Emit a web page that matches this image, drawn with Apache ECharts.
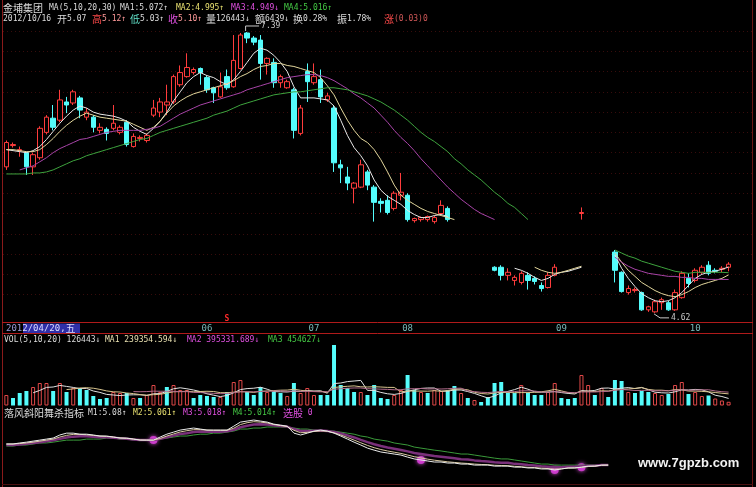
<!DOCTYPE html>
<html>
<head>
<meta charset="utf-8">
<script src="https://cdn.jsdelivr.net/npm/echarts@6/dist/echarts.min.js"></script>
<style>
html,body{margin:0;padding:0;background:#000;}
#chart{width:756px;height:487px;}
</style>
</head>
<body>
<div id="chart"></div>
<script>
// ---- Daily bars (2012), one slot per trading day, a few empty slots at the right ----
const slotCount = 112;
const slots = Array.from({ length: slotCount }, (_, i) => String(i));

// month tick labels on the time axis
const monthTickIndex = [30, 46, 60, 83, 103];
const monthTickText = ['06', '07', '08', '09', '10'];

// OHLC (null = no bar drawn)
const priceOpen = [
6.06,6.27,6.22,6.20,6.06,6.15,6.40,6.54,6.52,6.70,
6.69,6.74,6.55,6.55,6.42,6.43,6.44,6.40,6.50,6.26,
6.34,6.32,6.57,6.60,6.67,6.70,6.87,6.95,6.99,7.03,
6.94,6.84,6.75,6.95,6.85,7.03,7.38,7.33,7.31,7.08,
7.09,6.89,6.84,6.82,6.39,7.00,6.89,6.92,6.72,6.64,
6.08,5.96,5.85,5.86,6.01,5.86,5.72,5.73,5.65,5.78,
5.78,5.53,5.54,5.54,5.52,5.60,5.65,null,null,null,
null,null,null,5.07,5.07,4.99,4.94,4.92,4.99,4.96,
4.89,4.87,4.99,null,null,null,5.60,null,null,null,
null,5.22,5.02,4.82,4.84,4.82,4.65,4.63,4.72,4.72,
4.65,4.77,4.96,4.94,5.02,5.09,5.04,5.05,5.07];
const priceClose = [
6.30,6.28,6.23,6.06,6.18,6.44,6.55,6.45,6.72,6.67,
6.80,6.62,6.60,6.45,6.45,6.39,6.49,6.45,6.28,6.36,
6.35,6.37,6.64,6.70,6.70,6.95,6.99,7.04,7.02,6.99,
6.82,6.79,6.85,6.84,7.11,7.36,7.33,7.29,7.08,7.13,
6.89,6.95,6.90,6.42,6.64,6.90,6.95,6.75,6.76,6.10,
6.05,5.90,5.90,6.08,5.88,5.71,5.70,5.61,5.80,5.81,
5.54,5.55,5.56,5.57,5.56,5.68,5.54,null,null,null,
null,null,null,5.04,4.99,5.02,4.97,5.01,4.94,4.93,
4.86,4.99,5.07,null,null,null,5.61,null,null,null,
null,5.04,4.83,4.86,4.85,4.65,4.68,4.73,4.75,4.65,
4.82,5.01,4.91,5.04,5.07,5.01,5.03,5.06,5.10];
const priceLow = [
6.03,6.25,6.16,5.98,5.98,6.13,6.38,6.42,6.50,6.59,
6.67,6.54,6.52,6.40,6.39,6.32,6.42,6.38,6.26,6.25,
6.31,6.30,6.55,6.55,6.57,6.68,6.85,6.94,6.97,6.87,
6.79,6.69,6.74,6.82,6.84,7.02,7.28,7.26,6.92,6.97,
6.84,6.84,6.83,6.34,6.37,6.70,6.87,6.69,6.70,6.01,
5.90,5.83,5.70,5.85,5.83,5.52,5.61,5.59,5.63,5.73,
5.52,5.51,5.52,5.52,5.50,5.58,5.52,null,null,null,
null,null,null,5.03,4.94,4.94,4.89,4.90,4.85,4.90,
4.83,4.86,4.98,null,null,null,5.54,null,null,null,
null,4.92,4.82,4.80,4.82,4.64,4.63,4.62,4.65,4.64,
4.64,4.76,4.87,4.92,5.00,4.99,5.01,5.02,5.03];
const priceHigh = [
6.32,6.30,6.26,6.21,6.20,6.46,6.57,6.67,6.82,6.75,
6.82,6.76,6.64,6.57,6.49,6.45,6.67,6.47,6.52,6.39,
6.37,6.39,6.72,6.74,6.87,6.97,7.06,7.18,7.04,7.04,
6.96,6.85,6.99,7.02,7.36,7.38,7.39,7.35,7.36,7.14,
7.13,6.97,6.92,6.84,6.67,7.08,7.08,7.02,6.79,6.67,
6.13,6.06,5.91,6.13,6.03,5.88,5.75,5.78,5.82,6.00,
5.80,5.56,5.57,5.58,5.58,5.73,5.67,null,null,null,
null,null,null,5.08,5.09,5.06,4.99,5.03,5.02,4.98,
4.92,5.02,5.10,null,null,null,5.66,null,null,null,
null,5.24,5.03,4.89,4.87,4.83,4.69,4.75,4.77,4.74,
4.85,5.03,5.01,5.06,5.09,5.13,5.06,5.08,5.12];

// price moving averages MA(5,10,20,30)
const ma5 = [
6.23,6.22,6.21,6.20,6.22,6.26,6.33,6.41,6.49,6.56,
6.62,6.66,6.64,6.60,6.58,6.57,6.56,6.54,6.51,6.45,
6.41,6.38,6.44,6.51,6.60,6.71,6.80,6.89,6.95,6.99,
6.96,6.94,6.90,6.87,6.92,7.00,7.09,7.18,7.23,7.21,
7.16,7.09,7.00,6.85,6.74,6.74,6.74,6.73,6.72,6.66,
6.52,6.37,6.25,6.17,6.07,5.93,5.83,5.77,5.73,5.69,
5.63,5.59,5.56,5.56,5.58,5.59,5.57,null,null,null,
null,null,null,null,null,null,5.06,5.04,5.01,4.97,
4.94,4.96,5.00,5.02,5.03,5.05,5.07,null,null,null,
null,5.19,5.06,4.96,4.88,4.81,4.77,4.74,4.73,4.74,
4.77,4.82,4.89,4.96,5.00,5.02,5.03,5.05,5.072];
const ma10 = [
6.23,6.23,6.22,6.21,6.21,6.23,6.28,6.34,6.41,6.47,
6.52,6.56,6.59,6.57,6.55,6.54,6.53,6.52,6.51,6.48,
6.45,6.42,6.45,6.51,6.59,6.66,6.71,6.75,6.78,6.80,
6.82,6.84,6.86,6.88,6.91,6.95,6.98,7.02,7.05,7.06,
7.08,7.08,7.06,7.05,7.03,7.01,6.99,6.94,6.86,6.77,
6.64,6.52,6.42,6.34,6.30,6.23,6.13,6.01,5.88,5.78,
5.73,5.69,5.65,5.62,5.60,5.58,5.56,5.54,null,null,
null,null,null,null,null,null,null,null,null,5.07,
5.04,5.02,5.01,5.02,5.04,5.06,5.08,null,null,null,
null,5.21,5.12,5.04,4.98,4.92,4.88,4.84,4.81,4.79,
4.78,4.80,4.83,4.87,4.90,4.92,4.94,4.96,4.995];
const ma20 = [
null,null,6.03,6.05,6.07,6.11,6.15,6.20,6.24,6.27,
6.30,6.33,6.34,6.36,6.38,6.40,6.41,6.42,6.42,6.42,
6.42,6.43,6.44,6.46,6.50,6.54,6.58,6.61,6.64,6.67,
6.69,6.71,6.73,6.75,6.77,6.79,6.82,6.84,6.86,6.88,
6.90,6.92,6.94,6.95,6.96,6.97,6.97,6.96,6.94,6.91,
6.87,6.83,6.78,6.74,6.69,6.64,6.57,6.50,6.42,6.35,
6.29,6.22,6.14,6.07,6.00,5.93,5.86,5.80,5.74,5.69,
5.64,5.60,5.57,5.54,null,null,null,null,null,null,
null,null,null,null,null,null,null,null,null,null,
null,5.17,5.12,5.08,5.05,5.03,5.01,5.00,4.99,4.98,
4.98,4.97,4.97,4.96,4.96,4.95,4.95,4.95,4.949];
const ma30 = [
5.99,5.99,5.99,5.99,6.00,6.00,6.01,6.03,6.06,6.09,
6.12,6.14,6.17,6.19,6.21,6.23,6.25,6.27,6.29,6.31,
6.33,6.34,6.37,6.40,6.42,6.44,6.46,6.48,6.50,6.52,
6.54,6.57,6.59,6.61,6.64,6.67,6.69,6.71,6.73,6.75,
6.77,6.78,6.79,6.80,6.80,6.81,6.82,6.83,6.84,6.84,
6.83,6.82,6.80,6.78,6.76,6.73,6.70,6.66,6.62,6.57,
6.52,6.46,6.40,6.35,6.31,6.26,6.21,6.14,6.09,6.03,
5.98,5.93,5.87,5.81,5.76,5.70,5.66,5.60,5.54,null,
null,null,null,null,null,null,null,null,null,null,
null,5.24,5.21,5.18,5.16,5.13,5.11,5.09,5.07,5.05,
5.03,5.02,5.01,5.02,5.02,5.02,5.02,5.02,5.016];

// volume (lots) and bar direction (1 = up, 0 = down)
const volume = [
357000,255000,425000,493000,629000,765000,765000,493000,765000,459000,
595000,561000,527000,323000,221000,255000,459000,425000,425000,255000,
255000,357000,697000,459000,629000,697000,527000,527000,255000,357000,
323000,289000,289000,459000,799000,867000,459000,357000,629000,459000,
459000,425000,323000,765000,425000,595000,357000,357000,357000,2057000,
697000,595000,459000,459000,357000,697000,255000,221000,357000,527000,
1037000,527000,459000,425000,527000,493000,527000,663000,425000,255000,
187000,119000,289000,765000,799000,425000,425000,697000,425000,357000,
357000,459000,765000,255000,221000,255000,1037000,697000,357000,595000,
289000,867000,833000,459000,425000,493000,459000,425000,357000,391000,
697000,799000,391000,459000,323000,340000,238000,170000,126443];
const volUp = [
1,0,0,0,1,1,1,0,1,0,
1,0,0,0,0,0,1,1,0,1,
0,1,1,1,0,1,1,1,0,0,
0,0,1,0,1,1,0,0,0,1,
0,0,1,0,1,1,1,0,0,0,
0,0,0,1,0,0,0,0,1,1,
0,0,1,0,1,1,0,0,1,0,
1,0,0,0,0,0,0,1,0,0,
0,1,1,0,0,0,1,1,0,1,
0,0,0,1,0,0,0,1,1,0,
1,1,0,1,1,0,1,1,1];
const volMa5 = [
null,null,null,null,432000,513000,615000,629000,683000,649000,
615000,575000,581000,493000,445000,377000,357000,337000,357000,364000,
364000,343000,398000,405000,479000,568000,602000,568000,527000,473000,
398000,350000,303000,343000,432000,541000,575000,588000,622000,554000,
473000,466000,459000,486000,479000,507000,493000,500000,418000,745000,
765000,813000,833000,853000,513000,513000,445000,398000,377000,411000,
479000,534000,581000,595000,595000,486000,486000,527000,527000,473000,
411000,330000,255000,323000,432000,479000,541000,622000,554000,466000,
452000,459000,473000,439000,411000,391000,507000,493000,513000,588000,
595000,561000,588000,609000,575000,615000,534000,452000,432000,425000,
466000,534000,527000,547000,534000,462000,350000,306000,239354.594];
const volMa10 = [
null,null,null,null,null,null,null,null,null,541000,
564000,595000,605000,588000,547000,496000,466000,459000,425000,405000,
371000,350000,368000,381000,422000,466000,473000,483000,466000,476000,
483000,476000,436000,435000,453000,470000,463000,446000,483000,493000,
507000,521000,524000,554000,517000,490000,480000,480000,452000,612000,
636000,653000,667000,636000,629000,639000,629000,616000,615000,462000,
496000,490000,490000,486000,503000,483000,510000,554000,561000,534000,
449000,408000,391000,425000,453000,445000,436000,439000,439000,449000,
466000,500000,548000,497000,439000,422000,483000,483000,476000,500000,
493000,534000,541000,561000,582000,605000,548000,520000,521000,500000,
541000,534000,490000,490000,480000,464000,442000,417000,395331.689];
const volMa20 = [
null,null,null,null,null,null,null,null,null,null,
null,null,null,null,null,null,null,null,null,473000,
468000,473000,487000,485000,485000,481000,470000,471000,446000,441000,
427000,413000,402000,408000,438000,468000,468000,465000,475000,485000,
495000,499000,480000,495000,485000,480000,472000,463000,468000,553000,
572000,587000,596000,595000,573000,565000,555000,548000,534000,537000,
566000,572000,579000,561000,566000,561000,570000,585000,588000,498000,
473000,449000,441000,456000,478000,464000,473000,497000,500000,492000,
458000,454000,470000,461000,446000,434000,460000,461000,458000,475000,
480000,517000,545000,529000,511000,514000,516000,502000,499000,500000,
517000,534000,516000,526000,531000,535000,495000,469000,454627];

// 落风斜阳舞杀指标 lines
const indM1 = [
6.03,6.03,6.08,6.12,6.17,6.22,6.27,6.32,6.47,6.56,
6.56,6.51,6.51,6.47,6.42,6.42,6.37,6.32,6.32,6.27,
6.22,6.22,6.22,6.37,6.51,6.61,6.71,6.76,6.81,6.76,
6.71,6.71,6.71,6.71,6.90,7.10,7.15,7.20,7.15,7.10,
7.00,6.95,6.90,6.56,6.47,6.56,6.66,6.71,6.66,6.56,
6.42,6.27,6.12,5.98,5.83,5.73,5.64,5.59,5.54,5.49,
5.39,5.30,5.25,5.20,5.15,5.15,5.10,5.10,5.05,5.05,
5.00,5.00,5.00,4.95,4.95,4.95,4.90,4.90,4.86,4.86,
4.81,4.81,4.76,4.81,4.86,4.86,4.90,4.95,4.95,5.00,
5.00,null,null,null,null,null,null,null,null,null,
null,null,null,null,null,null,null,null,null];
const indM2 = [
6.03,6.03,6.05,6.08,6.12,6.17,6.22,6.27,6.37,6.45,
6.50,6.50,6.48,6.45,6.42,6.40,6.37,6.33,6.30,6.27,
6.23,6.22,6.22,6.30,6.42,6.52,6.62,6.68,6.73,6.73,
6.71,6.70,6.70,6.70,6.80,6.98,7.07,7.12,7.10,7.06,
6.98,6.93,6.88,6.70,6.58,6.60,6.64,6.67,6.65,6.58,
6.47,6.35,6.22,6.09,5.96,5.85,5.76,5.69,5.63,5.57,
5.49,5.41,5.35,5.29,5.24,5.20,5.16,5.13,5.10,5.08,
5.05,5.03,5.02,4.99,4.98,4.97,4.94,4.92,4.89,4.88,
4.85,4.83,4.80,4.82,4.85,4.86,4.89,4.93,4.95,4.99,
5.00,null,null,null,null,null,null,null,null,null,
null,null,null,null,null,null,null,null,null];
const indM3 = [
5.98,5.98,6.01,6.04,6.08,6.12,6.16,6.21,6.28,6.35,
6.39,6.41,6.41,6.39,6.36,6.36,6.34,6.31,6.29,6.25,
6.22,6.22,6.22,6.28,6.36,6.44,6.52,6.56,6.62,6.64,
6.63,6.63,6.63,6.65,6.72,6.85,6.92,6.98,6.99,6.98,
6.94,6.91,6.88,6.76,6.67,6.67,6.68,6.69,6.66,6.62,
6.54,6.45,6.35,6.23,6.12,6.02,5.93,5.86,5.80,5.74,
5.67,5.59,5.54,5.49,5.44,5.41,5.37,5.33,5.29,5.27,
5.23,5.20,5.18,5.14,5.12,5.11,5.06,5.04,5.00,4.98,
4.94,4.92,4.89,4.90,4.92,4.92,4.94,4.97,4.97,5.00,
5.00,null,null,null,null,null,null,null,null,null,
null,null,null,null,null,null,null,null,null];
const indM4 = [
5.93,5.93,5.98,5.98,6.03,6.08,6.08,6.12,6.17,6.22,
6.22,6.22,6.27,6.27,6.27,6.32,6.32,6.27,6.27,6.22,
6.22,6.22,6.22,6.27,6.32,6.37,6.42,6.42,6.47,6.51,
6.51,6.56,6.56,6.61,6.66,6.76,6.76,6.81,6.81,6.86,
6.86,6.86,6.86,6.81,6.76,6.76,6.71,6.71,6.66,6.66,
6.61,6.56,6.51,6.42,6.37,6.27,6.22,6.17,6.08,6.03,
5.98,5.88,5.83,5.78,5.73,5.69,5.64,5.59,5.54,5.54,
5.49,5.44,5.39,5.34,5.30,5.30,5.25,5.20,5.15,5.10,
5.05,5.05,5.00,5.00,5.00,5.00,5.00,5.00,5.00,5.00,
5.00,null,null,null,null,null,null,null,null,null,
null,null,null,null,null,null,null,null,null];
// 选股 signal points
const signalBars = [22, 62, 82, 86];
const signalValues = [6.22, 5.25, 4.76, 4.90];

// bars whose extremes are annotated
const highBar = 36;
const lowBar = 97;

// ---- build series data ----
const candleData = priceOpen.map((o, i) =>
  o == null ? ['-', '-', '-', '-'] : [o, priceClose[i], priceLow[i], priceHigh[i]]);
const volData = volume.map((v, i) => ({
  value: v,
  itemStyle: volUp[i]
    ? { color: 'rgba(0,0,0,0)', borderColor: '#e04848', borderWidth: 1 }
    : { color: '#54fcfc' }
}));

const chart = echarts.init(document.getElementById('chart'), null, { renderer: 'canvas' });

const hidden = { show: false };
function catAxis(g) {
  return {
    type: 'category', gridIndex: g, data: slots, boundaryGap: true,
    axisLine: hidden, axisTick: hidden, axisLabel: hidden, splitLine: hidden
  };
}
const xAxes = [catAxis(0), catAxis(1), catAxis(2)];
xAxes[1].position = 'top';
xAxes[1].axisLabel = {
  show: true, margin: 0, fontSize: 9, color: '#78b8b8', fontFamily: 'DejaVu Sans Mono',
  interval: (idx) => monthTickIndex.includes(idx),
  formatter: (val) => {
    const k = monthTickIndex.indexOf(Number(val));
    return k >= 0 ? monthTickText[k] : '';
  }
};

function line(name, data, color, x, y, width) {
  return {
    name, type: 'line', data, xAxisIndex: x, yAxisIndex: y,
    showSymbol: false, symbol: 'none', connectNulls: false, silent: true,
    lineStyle: { color, width: width || 1 }
  };
}

const mono = 'DejaVu Sans Mono';
const cjk = 'Noto Sans CJK SC';
const palette = {
  w: '#dcdcdc', y: '#e8e070', p: '#e050e0', g: '#44c844', r: '#ff4a4a',
  k: '#ff9a9a', t: '#60e0c8', d: '#d05858', v: '#e8e0b0'
};
const rich = {};
Object.keys(palette).forEach(key => {
  rich[key] = { fill: palette[key], fontSize: 8, fontFamily: mono };
  rich[key + 'K'] = { fill: palette[key], fontSize: 10, fontFamily: cjk };
});
rich.q = { fill: '#9a9ad8', fontSize: 9, fontFamily: mono };
rich.s = { fill: '#dcdcff', fontSize: 9, fontFamily: mono };
rich.sK = { fill: '#dcdcff', fontSize: 10, fontFamily: cjk };

function label(x, y, text) {
  return { type: 'text', x, y, silent: true,
    style: { text, rich, verticalAlign: 'middle', align: 'left' } };
}

const headerTexts = [
  label(3, 8, '{wK|金埔集团}'),
  label(49, 8, '{w|MA(5,10,20,30)}'),
  label(120, 8, '{w|MA1:5.072↑}'),
  label(176, 8, '{y|MA2:4.995↑}'),
  label(231, 8, '{p|MA3:4.949↓}'),
  label(284, 8, '{g|MA4:5.016↑}'),
  label(3, 19, '{w|2012/10/16}'),
  label(57, 19, '{wK|开}{w|5.07}'),
  label(92, 19, '{rK|高}{k|5.12↑}'),
  label(130, 19, '{tK|低}{w|5.03↑}'),
  label(168, 19, '{pK|收}{k|5.10↑}'),
  label(206, 19, '{wK|量}{w|126443↓}'),
  label(255, 19, '{wK|额}{w|6439↓}'),
  label(293, 19, '{wK|换}{w|0.28%}'),
  label(337, 19, '{wK|振}{w|1.78%}'),
  label(384, 19, '{rK|涨}{d|(0.03)0}'),
  label(4, 340, '{w|VOL(5,10,20) 126443↓}'),
  label(105, 340, '{v|MA1 239354.594↓}'),
  label(187, 340, '{p|MA2 395331.689↓}'),
  label(268, 340, '{g|MA3 454627↓}'),
  label(4, 413, '{wK|落风斜阳舞杀指标}'),
  label(88, 413, '{w|M1:5.08↑}'),
  label(133, 413, '{y|M2:5.061↑}'),
  label(183, 413, '{p|M3:5.018↑}'),
  label(233, 413, '{g|M4:5.014↑}'),
  label(283, 413, '{pK|选股}{p| 0}')
];

function hline(y, x1, x2, color) {
  return { type: 'line', silent: true, shape: { x1, y1: y, x2, y2: y },
    style: { stroke: color, lineWidth: 1 } };
}
function vline(x, y1, y2, color) {
  return { type: 'line', silent: true, shape: { x1: x, y1, x2: x, y2 },
    style: { stroke: color, lineWidth: 1 } };
}

const frame = [
  vline(2.5, 0, 487, '#8a1a1a'),
  vline(752.5, 0, 487, '#6a1414'),
  hline(322.5, 2, 753, '#b01a1a'),
  hline(333.5, 2, 753, '#b01a1a'),
  hline(484.5, 2, 753, '#4a1010'),
  // cursor date readout in the time band
  { type: 'rect', silent: true, shape: { x: 23, y: 323.5, width: 57, height: 9.5 },
    style: { fill: '#2f2fa8' } },
  label(6, 328.5, '{q|201}{s|2/04/20,}{sK|五}'),
  { type: 'text', x: 227, y: 318.5, silent: true,
    style: { text: 'S', fill: '#ff2a2a', fontSize: 8, fontWeight: 'bold', fontFamily: mono,
      align: 'center', verticalAlign: 'middle' } },
  { type: 'text', x: 638, y: 463, silent: true,
    style: { text: 'www.7gpzb.com', fill: '#f2f2f2', fontSize: 13, fontWeight: 'bold',
      fontFamily: 'Liberation Sans', verticalAlign: 'middle' } }
];

const option = {
  backgroundColor: '#000',
  animation: false,
  grid: [
    { left: 3, width: 749, top: 10.7, height: 304.2 },
    { left: 3, width: 749, top: 333, height: 72.5 },
    { left: 3, width: 749, top: 418, height: 69 }
  ],
  xAxis: xAxes,
  yAxis: [
    { type: 'value', gridIndex: 0, min: 4.6, max: 7.6, interval: 0.2,
      axisLine: hidden, axisTick: hidden, axisLabel: hidden,
      splitLine: { show: true, showMinLine: false, showMaxLine: false,
        lineStyle: { color: '#380c0c', type: [1, 3], width: 1 } } },
    { type: 'value', gridIndex: 1, min: 0, max: 2465000,
      axisLine: hidden, axisTick: hidden, axisLabel: hidden, splitLine: hidden },
    { type: 'value', gridIndex: 2, min: 3.93, max: 7.30,
      axisLine: hidden, axisTick: hidden, axisLabel: hidden, splitLine: hidden }
  ],
  series: [
    {
      name: 'K', type: 'candlestick', xAxisIndex: 0, yAxisIndex: 0, data: candleData,
      barWidth: 5, silent: true,
      itemStyle: { color: '#000', color0: '#54fcfc', borderColor: '#ff3c3c',
        borderColor0: '#54fcfc', borderWidth: 1 }
    },
    line('MA5', ma5, '#e8e8e8', 0, 0),
    line('MA10', ma10, '#e2d69c', 0, 0),
    line('MA20', ma20, '#a844a8', 0, 0),
    line('MA30', ma30, '#3ea43e', 0, 0),
    { name: 'VOL', type: 'bar', xAxisIndex: 1, yAxisIndex: 1, data: volData,
      barWidth: 4, silent: true },
    line('VMA5', volMa5, '#e0e0e0', 1, 1),
    line('VMA10', volMa10, '#d8c48e', 1, 1),
    line('VMA20', volMa20, '#b06a8a', 1, 1),
    line('M4', indM4, '#3a9a3a', 2, 2),
    line('M3', indM3, '#7a307a', 2, 2, 2.5),
    line('M2', indM2, '#d8c8a0', 2, 2),
    line('M1', indM1, '#ececec', 2, 2),
    { name: '选股', type: 'scatter', xAxisIndex: 2, yAxisIndex: 2, silent: true,
      data: signalBars.map((b, k) => [b, signalValues[k]]),
      symbol: 'circle', symbolSize: 8,
      itemStyle: { color: '#e040e0', shadowColor: '#ff60ff', shadowBlur: 4 } }
  ],
  graphic: headerTexts.concat(frame)
};
chart.setOption(option);

// extreme-price call-outs placed through the price scale
const hp = chart.convertToPixel({ xAxisIndex: 0, yAxisIndex: 0 }, [highBar, priceHigh[highBar]]);
const lp = chart.convertToPixel({ xAxisIndex: 0, yAxisIndex: 0 }, [lowBar, priceLow[lowBar]]);
const callouts = [
  { type: 'polyline', silent: true,
    shape: { points: [[hp[0] - 1.5, hp[1] - 1], [hp[0] - 1.5, hp[1] - 6], [hp[0] + 12, hp[1] - 6]] },
    style: { stroke: '#c8c8c8', lineWidth: 1, fill: null } },
  { type: 'text', x: hp[0] + 14, y: hp[1] - 6, silent: true,
    style: { text: priceHigh[highBar].toFixed(2), fill: '#c8c8c8', fontSize: 8,
      fontFamily: mono, verticalAlign: 'middle' } },
  { type: 'polyline', silent: true,
    shape: { points: [[lp[0] - 1, lp[1] + 1], [lp[0] + 5, lp[1] + 5], [lp[0] + 14, lp[1] + 5]] },
    style: { stroke: '#c8c8c8', lineWidth: 1, fill: null } },
  { type: 'text', x: lp[0] + 16, y: lp[1] + 5, silent: true,
    style: { text: priceLow[lowBar].toFixed(2), fill: '#c8c8c8', fontSize: 8,
      fontFamily: mono, verticalAlign: 'middle' } }
];
chart.setOption({ graphic: headerTexts.concat(frame, callouts) }, { replaceMerge: ['graphic'] });
</script>
</body>
</html>
